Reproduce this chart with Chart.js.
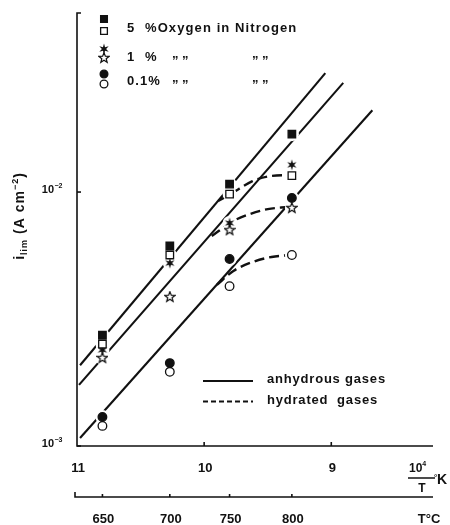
<!DOCTYPE html>
<html>
<head>
<meta charset="utf-8">
<script src="https://cdn.jsdelivr.net/npm/chart.js@4.4.1/dist/chart.umd.min.js"></script>
<style>
  body { margin: 0; background: #fff; }
  #wrap { width: 450px; height: 525px; position: relative; }
</style>
</head>
<body>
<div id="wrap"><canvas id="ilimChart"></canvas></div>
<script>
// 10^4/T (K^-1) of the runs at 650, 700, 750 and 800 °C
const invT = [10.80, 10.27, 9.80, 9.31];
const tempC = ['650', '700', '750', '800'];

// limiting current density i_lim (A cm^-2); dry = anhydrous, wet = hydrated
const o5dry  = [2.73e-3, 6.13e-3, 1.075e-2, 1.69e-2];
const o5wet  = [2.52e-3, 5.65e-3, 9.82e-3, 1.16e-2];
const o1dry  = [2.39e-3, 5.25e-3, 7.55e-3, 1.28e-2];
const o1wet  = [2.22e-3, 3.86e-3, 7.08e-3, 8.65e-3];
const o01dry = [1.30e-3, 2.12e-3, 5.45e-3, 9.47e-3];
const o01wet = [1.20e-3, 1.96e-3, 4.26e-3, 5.65e-3];

// straight lines for the anhydrous gases (end points)
const fit5X  = [10.976, 9.047],  fit5Y  = [2.08e-3, 2.94e-2];
const fit1X  = [10.984, 8.906],  fit1Y  = [1.74e-3, 2.69e-2];
const fit01X = [10.976, 8.677],  fit01Y = [1.075e-3, 2.10e-2];

// bending curves for the hydrated gases
const wet5X  = [9.89, 9.78, 9.62, 9.48, 9.32];
const wet5Y  = [9.22e-3, 9.91e-3, 1.104e-2, 1.156e-2, 1.167e-2];
const wet1X  = [9.94, 9.77, 9.64, 9.50, 9.34];
const wet1Y  = [6.71e-3, 7.69e-3, 8.19e-3, 8.57e-3, 8.73e-3];
const wet01X = [9.90, 9.77, 9.62, 9.47, 9.32];
const wet01Y = [4.31e-3, 4.89e-3, 5.30e-3, 5.55e-3, 5.65e-3];

// axis ticks
const invTTicks = [11, 10, 9];
const ilimTicks = [1e-3, 1e-2];

const ink = '#111';
const font = (size) => `bold ${size}px "Liberation Sans", Arial, sans-serif`;
const pts = (xs, ys) => xs.map((x, i) => ({ x, y: ys[i] }));

// small star markers (6-point filled, 5-point open)
function starCanvas(n, filled) {
    const c = document.createElement('canvas');
    c.width = c.height = 12;
    const g = c.getContext('2d');
    g.translate(6, 6);
    g.beginPath();
    for (let i = 0; i < n * 2; i++) {
        const r = i % 2 ? (filled ? 2.1 : 2.3) : 5.4;
        const a = -Math.PI / 2 + i * Math.PI / n;
        g.lineTo(r * Math.cos(a), r * Math.sin(a));
    }
    g.closePath();
    if (filled) {
        g.fillStyle = ink; g.fill();
    } else {
        g.fillStyle = '#fff'; g.fill();
        g.strokeStyle = ink; g.lineWidth = 1.2; g.stroke();
    }
    return c;
}
const starFull = starCanvas(6, true);
const starOpen = starCanvas(5, false);

const markers = [
    { ys: o5dry,  style: 'rect',   r: 5.3, bg: ink },
    { ys: o5wet,  style: 'rect',   r: 5.3, bg: '#fff' },
    { ys: o1dry,  style: starFull, r: 5,   bg: ink },
    { ys: o1wet,  style: starOpen, r: 5,   bg: '#fff' },
    { ys: o01dry, style: 'circle', r: 4.3, bg: ink },
    { ys: o01wet, style: 'circle', r: 4.3, bg: '#fff' }
];

const datasets = [];
markers.forEach(m => datasets.push({
    data: pts(invT, m.ys),
    pointStyle: m.style,
    pointRadius: m.r,
    pointBackgroundColor: m.bg,
    pointBorderColor: ink,
    pointBorderWidth: 1.3,
    showLine: false,
    order: 0
}));

// white patches so the lines break around the symbols
datasets.push({
    data: markers.flatMap(m => pts(invT, m.ys)),
    pointStyle: 'circle',
    pointRadius: 7,
    pointBackgroundColor: '#fff',
    pointBorderColor: '#fff',
    pointBorderWidth: 0,
    showLine: false,
    order: 1
});

[[wet5X, wet5Y], [wet1X, wet1Y], [wet01X, wet01Y]].forEach(([xs, ys]) => datasets.push({
    data: pts(xs, ys),
    showLine: true,
    borderColor: ink,
    borderWidth: 2.4,
    borderDash: [10, 5],
    cubicInterpolationMode: 'monotone',
    pointRadius: 0,
    order: 2
}));

[[fit5X, fit5Y], [fit1X, fit1Y], [fit01X, fit01Y]].forEach(([xs, ys]) => datasets.push({
    data: pts(xs, ys),
    showLine: true,
    borderColor: ink,
    borderWidth: 2.1,
    pointRadius: 0,
    order: 3
}));

function richText(ctx, parts, x, y, align) {
    let w = 0;
    parts.forEach(p => { ctx.font = font(p[1]); w += ctx.measureText(p[0]).width; });
    let cx = align === 'center' ? x - w / 2 : (align === 'right' ? x - w : x);
    ctx.textAlign = 'left';
    parts.forEach(p => {
        ctx.font = font(p[1]);
        ctx.fillText(p[0], cx, y + (p[2] || 0));
        cx += ctx.measureText(p[0]).width;
    });
}

function seg(ctx, x1, y1, x2, y2) {
    ctx.beginPath(); ctx.moveTo(x1, y1); ctx.lineTo(x2, y2); ctx.stroke();
}

// axes, tick labels, temperature scale and the two keys
const frame = {
    id: 'frame',
    afterDraw(chart) {
        const { ctx, chartArea: a, scales: { x, y } } = chart;
        ctx.save();
        ctx.strokeStyle = ink;
        ctx.fillStyle = ink;
        ctx.lineWidth = 1.6;
        ctx.textBaseline = 'alphabetic';

        ctx.beginPath();
        ctx.moveTo(a.left + 4, a.top);
        ctx.lineTo(a.left, a.top);
        ctx.lineTo(a.left, a.bottom);
        ctx.lineTo(a.right, a.bottom);
        ctx.stroke();

        // log axis
        ilimTicks.forEach(v => {
            const py = y.getPixelForValue(v);
            seg(ctx, a.left, py, a.left + 4, py);
            const exp = Math.round(Math.log10(v));
            ctx.textAlign = 'right';
            ctx.font = font(11);
            ctx.fillText('10', 54, py + 1);
            ctx.textAlign = 'left';
            ctx.font = font(7);
            ctx.fillText('\u2212' + (-exp), 54.5, py - 4);
        });

        // 10^4/T axis
        invTTicks.forEach(v => {
            const px = x.getPixelForValue(v);
            if (v !== 11) seg(ctx, px, a.bottom, px, a.bottom - 4);
            ctx.textAlign = 'center';
            ctx.font = font(13);
            ctx.fillText(String(v), px + 1, a.bottom + 26);
        });
        richText(ctx, [['10', 12], ['4', 7, -6]], 409, 472, 'left');
        ctx.lineWidth = 1.5;
        seg(ctx, 408, 478, 435, 478);
        ctx.textAlign = 'center';
        ctx.font = font(12);
        ctx.fillText('T', 422, 492);
        ctx.textAlign = 'left';
        ctx.font = font(8);
        ctx.fillText('°', 434, 480);
        ctx.font = font(14);
        ctx.fillText('K', 437, 484);

        // °C scale
        const ty = a.bottom + 51;
        ctx.lineWidth = 1.6;
        ctx.beginPath();
        ctx.moveTo(a.left - 2, ty - 5);
        ctx.lineTo(a.left - 2, ty);
        ctx.lineTo(a.right, ty);
        ctx.stroke();
        ctx.textAlign = 'center';
        ctx.font = font(13);
        invT.forEach((v, i) => {
            const px = x.getPixelForValue(v);
            seg(ctx, px, ty, px, ty - 3);
            ctx.fillText(tempC[i], px + 1, ty + 26);
        });
        ctx.fillText('T°C', 429, ty + 26);

        // rotated y title
        ctx.save();
        ctx.translate(24, 216);
        ctx.rotate(-Math.PI / 2);
        ctx.letterSpacing = '1px';
        richText(ctx, [['i', 14], ['lim', 9, 3], [' (A cm', 14], ['\u22122', 9, -6], [')', 14]], 0, 0, 'center');
        ctx.restore();

        // key for the oxygen contents
        const keyRows = [
            { y: 32, first: '5', rest: '%Oxygen in Nitrogen', ditto: false, m: [0, 1], my: [19, 31] },
            { y: 61, first: '1', rest: '%', ditto: true, m: [2, 3], my: [49, 58] },
            { y: 85, first: '0.1%', rest: '', ditto: true, m: [4, 5], my: [74, 84] }
        ];
        keyRows.forEach(row => {
            row.m.forEach((mi, k) => {
                const mk = markers[mi];
                ctx.lineWidth = 1.3;
                ctx.fillStyle = mk.bg;
                ctx.strokeStyle = ink;
                Chart.helpers.drawPoint(ctx, { pointStyle: mk.style, radius: mk.r * 0.9, borderWidth: 1.3 }, 104, row.my[k]);
            });
            ctx.fillStyle = ink;
            ctx.textAlign = 'left';
            ctx.font = font(13);
            ctx.letterSpacing = '1.1px';
            ctx.fillText(row.first, 127, row.y);
            if (row.rest) ctx.fillText(row.rest, 145, row.y);
            if (row.ditto) {
                ctx.letterSpacing = '0px';
                ctx.fillText('\u201D \u201D', 172, row.y + 4);
                ctx.fillText('\u201D \u201D', 252, row.y + 4);
            }
        });

        // key for the line styles
        ctx.letterSpacing = '0px';
        ctx.lineWidth = 2;
        seg(ctx, 203, 381, 253, 381);
        ctx.setLineDash([5, 3]);
        seg(ctx, 203, 401.5, 253, 401.5);
        ctx.setLineDash([]);
        ctx.font = font(13);
        ctx.letterSpacing = '0.8px';
        ctx.fillText('anhydrous gases', 267, 383);
        ctx.fillText('hydrated  gases', 267, 404);

        ctx.restore();
    }
};

const ctx = document.getElementById('ilimChart').getContext('2d');
const ilimChart = new Chart(ctx, {
    type: 'scatter',
    data: { datasets },
    options: {
        responsive: true,
        maintainAspectRatio: false,
        animation: false,
        events: [],
        layout: { padding: { left: 77, right: 17, top: 13, bottom: 79 } },
        plugins: { legend: { display: false }, tooltip: { enabled: false } },
        scales: {
            x: { type: 'linear', reverse: true, min: 8.2, max: 11, display: false },
            y: { type: 'logarithmic', min: 1e-3, max: 0.0507, display: false }
        }
    },
    plugins: [frame]
});
</script>
</body>
</html>
